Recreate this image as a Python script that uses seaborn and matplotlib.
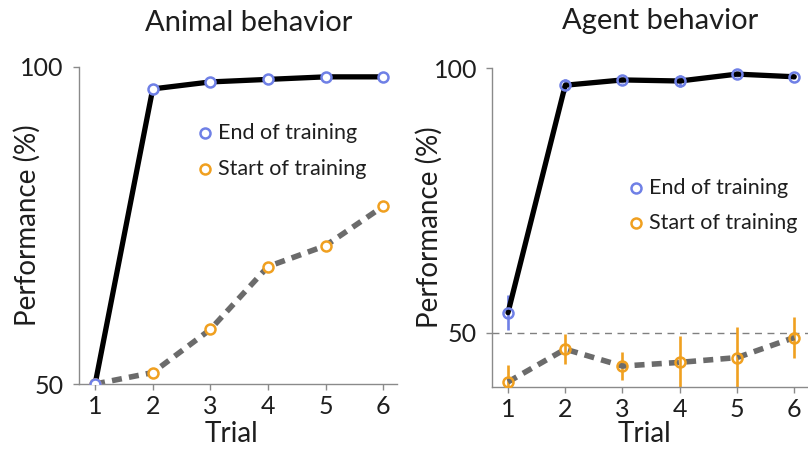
import matplotlib
matplotlib.use("Agg")
import matplotlib.pyplot as plt
import seaborn as sns
import numpy as np
import pandas as pd

sns.set_theme(style="white")
plt.rcParams['font.family'] = ['Lato', 'DejaVu Sans']

trials = [1, 2, 3, 4, 5, 6]
animal_end = [50.0, 96.5, 97.6, 98.0, 98.4, 98.4]
animal_start = [50.0, 51.8, 58.6, 68.5, 71.8, 78.0]
agent_end = [53.8, 96.8, 97.8, 97.6, 98.9, 98.4]
agent_end_err = [3.3, 1.2, 0.6, 1.2, 0.6, 0.4]
agent_start = [40.7, 46.9, 43.7, 44.4, 45.3, 49.1]
agent_start_err = [3.2, 2.8, 2.7, 5.0, 5.8, 3.8]

BLUE = '#6f80e6'
ORANGE = '#f0a020'
GRAY = '#6b6b6b'
SPINE = '#8a8a8a'
TXT = '#1e1e1e'

W, H = 808, 451
fig = plt.figure(figsize=(W/100, H/100), dpi=100)
axL = fig.add_axes([79/W, 1-384/H, (397-79)/W, (384-66.7)/H])
axR = fig.add_axes([492.3/W, 1-386.7/H, (W-492.3)/W, (386.7-68.3)/H])

dfA = pd.DataFrame({'Trial': trials, 'end': animal_end, 'start': animal_start})
dfG = pd.DataFrame({'Trial': trials, 'end': agent_end, 'start': agent_start,
                    'end_err': agent_end_err, 'start_err': agent_start_err})

MS = 7.2
MEW = 1.8


def style_axes(ax, ylim, xlim, xlab_x, ylab_x):
    ax.set_xlim(*xlim)
    ax.set_ylim(*ylim)
    ax.set_xticks(trials)
    ax.set_yticks([50, 100])
    for s in ['top', 'right']:
        ax.spines[s].set_visible(False)
    for s in ['left', 'bottom']:
        ax.spines[s].set_color(SPINE)
        ax.spines[s].set_linewidth(1.0)
    ax.tick_params(axis='both', which='both', bottom=True, left=True,
                   length=4, width=1.0, color=SPINE, labelsize=18,
                   labelcolor=TXT)
    ax.tick_params(axis='y', pad=7)
    ax.tick_params(axis='x', pad=4)
    ax.set_xlabel('Trial', fontsize=20, color=TXT)
    ax.set_ylabel('Performance (%)', fontsize=20, color=TXT)
    bb = ax.get_position()
    # label coordinates in axes fraction
    ax.xaxis.set_label_coords((xlab_x/W - bb.x0)/bb.width, (1-434/H - bb.y0)/bb.height)
    ax.yaxis.set_label_coords((ylab_x/W - bb.x0)/bb.width, 0.5)
    ax.xaxis.label.set_va('center')
    ax.yaxis.label.set_va('center')
    ax.grid(False)


# Left: animal behaviour
sns.lineplot(data=dfA, x='Trial', y='start', ax=axL, color=GRAY, lw=4,
             linestyle=(0, (1.8, 1.3)), zorder=2)
sns.lineplot(data=dfA, x='Trial', y='end', ax=axL, color='black', lw=3.8, zorder=3)
axL.plot(trials, animal_start, 'o', ms=MS, mfc='white', mec=ORANGE, mew=MEW,
         zorder=4, linestyle='none')
axL.plot(trials, animal_end, 'o', ms=MS, mfc='white', mec=BLUE, mew=MEW,
         zorder=5, linestyle='none')
style_axes(axL, (50, 100), (0.72, 6.24), 232, 27)

# Right: agent behaviour
axR.axhline(50, color='#808080', lw=1.0, ls=(0, (5, 4)), zorder=1)
axR.errorbar(trials, agent_start, yerr=agent_start_err, fmt='none',
             ecolor=ORANGE, elinewidth=1.9, capsize=0, zorder=2)
axR.errorbar(trials, agent_end, yerr=agent_end_err, fmt='none',
             ecolor=BLUE, elinewidth=1.9, capsize=0, zorder=2)
sns.lineplot(data=dfG, x='Trial', y='start', ax=axR, color=GRAY, lw=4,
             linestyle=(0, (1.8, 1.3)), zorder=3)
sns.lineplot(data=dfG, x='Trial', y='end', ax=axR, color='black', lw=3.8, zorder=3)
axR.plot(trials, agent_start, 'o', ms=MS, mfc='none', mec=ORANGE, mew=MEW,
         zorder=4, linestyle='none')
axR.plot(trials, agent_end, 'o', ms=MS, mfc='none', mec=BLUE, mew=MEW,
         zorder=5, linestyle='none')
style_axes(axR, (39.8, 100), (0.726, 6.24), 645, 429)

# Titles
fig.text(249/W, 1-31/H, 'Animal behavior', fontsize=21, ha='center',
         va='baseline', color=TXT)
fig.text(660/W, 1-29/H, 'Agent behavior', fontsize=21, ha='center',
         va='baseline', color=TXT)


def legend(entries):
    for (px, py, col, txt) in entries:
        fx, fy = px/W, 1-py/H
        fig.lines.append(plt.Line2D([fx], [fy], marker='o', ms=MS, mfc='white',
                                    mec=col, mew=MEW, transform=fig.transFigure,
                                    linestyle='none'))
        fig.text(fx + 13/W, fy, txt, fontsize=15.5, va='center', ha='left',
                 color=TXT)


legend([(205, 133, BLUE, 'End of training'),
        (205, 169, ORANGE, 'Start of training')])
legend([(636, 188, BLUE, 'End of training'),
        (636, 223, ORANGE, 'Start of training')])

fig.savefig('out.png', dpi=100)
